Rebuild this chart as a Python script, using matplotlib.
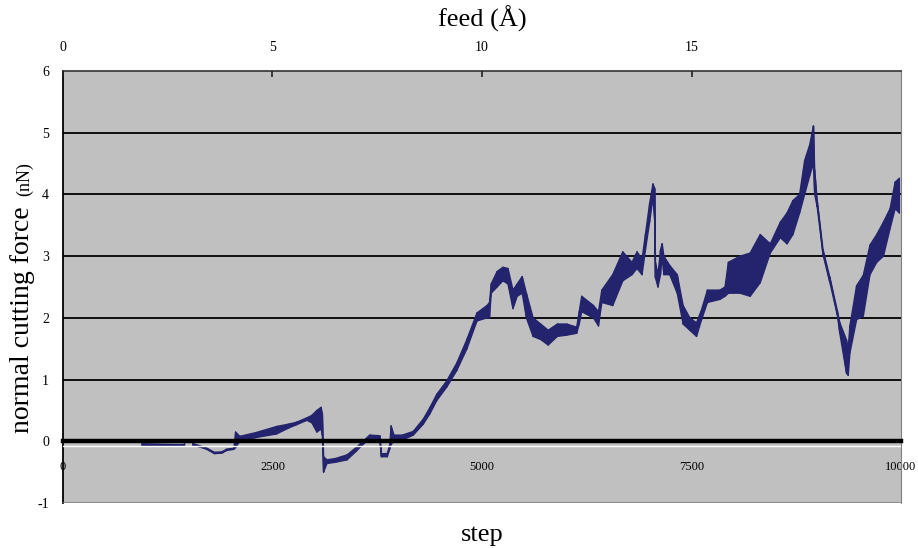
import numpy as np
import matplotlib
matplotlib.use("Agg")
import matplotlib.pyplot as plt

# step, lower / upper edge of the (noisy) force trace in nN
step = [940, 1450, 1500, 1550, 1700, 1810, 1900, 1950, 2040, 2060, 2110, 2300, 2550,
        2700, 2790, 2910, 2970, 3030, 3080, 3095, 3110, 3150, 3250, 3390, 3500, 3580,
        3660, 3780, 3800, 3870, 3900, 3915, 3950, 4050, 4180, 4300, 4380, 4460, 4580,
        4700, 4820, 4940, 5060, 5090, 5110, 5180, 5250, 5310, 5370, 5420, 5480, 5530,
        5610, 5700, 5790, 5900, 6010, 6130, 6160, 6190, 6330, 6390, 6430, 6560, 6680,
        6790, 6850, 6910, 6950, 7000, 7040, 7060, 7070, 7100, 7130, 7150, 7170, 7240,
        7330, 7400, 7480, 7560, 7620, 7690, 7840, 7900, 7940, 8080, 8200, 8320, 8440,
        8560, 8640, 8710, 8790, 8850, 8910, 8955, 8970, 9000, 9070, 9150, 9240, 9270,
        9350, 9370, 9390, 9470, 9550, 9630, 9710, 9790, 9870, 9930, 9980]
force_lo = [-0.06, -0.06, np.nan, -0.06, -0.12, -0.2, -0.19, -0.15, -0.13, -0.1, 0.0, 0.06, 0.12,
            0.22, 0.27, 0.34, 0.3, 0.15, 0.2, 0.1, -0.5, -0.36, -0.34, -0.3, -0.16, -0.05,
            0.04, 0.04, -0.25, -0.25, -0.12, -0.05, 0.0, 0.02, 0.1, 0.28, 0.45, 0.66, 0.88,
            1.15, 1.5, 1.95, 2.0, 2.0, 2.4, 2.5, 2.6, 2.55, 2.15, 2.35, 2.4, 2.0,
            1.7, 1.65, 1.56, 1.7, 1.72, 1.75, 1.9, 2.1, 2.0, 1.87, 2.25, 2.2, 2.6,
            2.7, 2.8, 2.7, 3.1, 3.55, 3.95, 3.6, 2.65, 2.5, 2.7, 3.0, 2.7, 2.7,
            2.4, 1.9, 1.8, 1.7, 1.97, 2.25, 2.3, 2.35, 2.4, 2.4, 2.35, 2.57, 3.05,
            3.3, 3.2, 3.35, 3.7, 4.0, 4.3, 4.5, 4.0, 3.8, 3.02, 2.58, 2.05, 1.75,
            1.1, 1.07, 1.43, 1.97, 2.03, 2.7, 2.9, 3.0, 3.45, 3.77, 3.7]
force_hi = [-0.04, -0.04, np.nan, -0.04, -0.1, -0.18, -0.17, -0.13, -0.11, 0.15, 0.08, 0.14, 0.24,
            0.28, 0.31, 0.38, 0.42, 0.5, 0.55, 0.45, -0.25, -0.3, -0.28, -0.22, -0.1, 0.0,
            0.1, 0.09, -0.2, -0.2, -0.05, 0.25, 0.1, 0.1, 0.16, 0.36, 0.55, 0.76, 0.98,
            1.27, 1.65, 2.08, 2.2, 2.25, 2.55, 2.75, 2.82, 2.8, 2.45, 2.55, 2.67, 2.4,
            2.0, 1.9, 1.8, 1.9, 1.9, 1.85, 2.1, 2.35, 2.2, 2.1, 2.45, 2.7, 3.07,
            2.9, 3.07, 2.95, 3.35, 3.85, 4.17, 4.1, 2.9, 2.7, 3.1, 3.2, 3.0, 2.85,
            2.7, 2.2, 2.0, 1.92, 2.13, 2.45, 2.45, 2.5, 2.9, 3.0, 3.05, 3.35, 3.2,
            3.55, 3.7, 3.9, 4.0, 4.55, 4.8, 5.11, 4.4, 3.9, 3.1, 2.66, 2.12, 1.92,
            1.64, 1.5, 1.87, 2.52, 2.69, 3.18, 3.35, 3.55, 3.77, 4.2, 4.26]

step_ticks = [0, 2500, 5000, 7500, 10000]
step_labels = ["0", "2500", "5000", "7500", "10000"]
feed_ticks = [0, 5, 10, 15]
force_ticks = [-1, 0, 1, 2, 3, 4, 5, 6]

navy = "#24246e"
serif = ["Liberation Serif", "DejaVu Serif"]

fig = plt.figure(figsize=(9.18, 5.48), dpi=100)
ax = fig.add_axes([0.0686, 0.0821, 0.9129, 0.7883])
ax.set_facecolor("#c0c0c0")

# band of the noisy trace + a zigzag through its edges
ax.fill_between(step, force_lo, force_hi, color=navy, edgecolor=navy, linewidth=1.0, zorder=3)
zz_x = np.repeat(step, 2)
zz_y = np.column_stack([force_lo, force_hi]).ravel()
ax.plot(zz_x, zz_y, color=navy, linewidth=1.0, zorder=3)

ax.set_xlim(0, 10000)
ax.set_ylim(-1, 6)

# horizontal grid
for g in [1, 2, 3, 4, 5]:
    ax.axhline(g, color="black", linewidth=1.3, zorder=1)
ax.axhline(-0.07, color="white", linewidth=1.0, zorder=4)
ax.axhline(-1, color="#808080", linewidth=1.2, zorder=4)

# bottom spine sits on y=0 as a thick black line
ax.spines["bottom"].set_position(("data", 0))
ax.spines["bottom"].set_linewidth(3.2)
ax.spines["bottom"].set_color("black")
ax.spines["bottom"].set_zorder(5)
ax.spines["left"].set_color("black")
ax.spines["left"].set_linewidth(1.3)
ax.spines["right"].set_color("#808080")
ax.spines["top"].set_color("#404040")
ax.spines["top"].set_linewidth(1.3)

ax.set_xticks(step_ticks)
ax.set_xticklabels(step_labels, fontfamily=serif, fontsize=9)
ax.tick_params(axis="x", length=0, pad=14)
ax.set_yticks(force_ticks)
ax.set_yticklabels([str(v) for v in force_ticks], fontfamily=serif, fontsize=10)
ax.tick_params(axis="y", length=0, pad=10)

# axis titles
fig.text(29 / 918, 1 - 433 / 548, "normal cutting force", rotation=90, rotation_mode="anchor",
         ha="left", va="baseline", fontfamily=serif, fontsize=20)
fig.text(29 / 918, 1 - 162 / 548, "(nN)", rotation=90, rotation_mode="anchor",
         ha="right", va="baseline", fontfamily=serif, fontsize=13)
fig.text(0.525, 1 - 535 / 548, "step", ha="center", va="center", fontfamily=serif, fontsize=19)
fig.text(0.525, 1 - 19 / 548, "feed (Å)", ha="center", va="center", fontfamily=serif, fontsize=19)

top = ax.twiny()
top.set_xlim(0, 20)
top.set_xticks(feed_ticks)
top.set_xticklabels([str(v) for v in feed_ticks], fontfamily=serif, fontsize=10)
top.tick_params(axis="x", direction="in", length=4, width=1.2, color="#202020", pad=12)
for s in top.spines.values():
    s.set_visible(False)

fig.savefig("out.png", dpi=100)
